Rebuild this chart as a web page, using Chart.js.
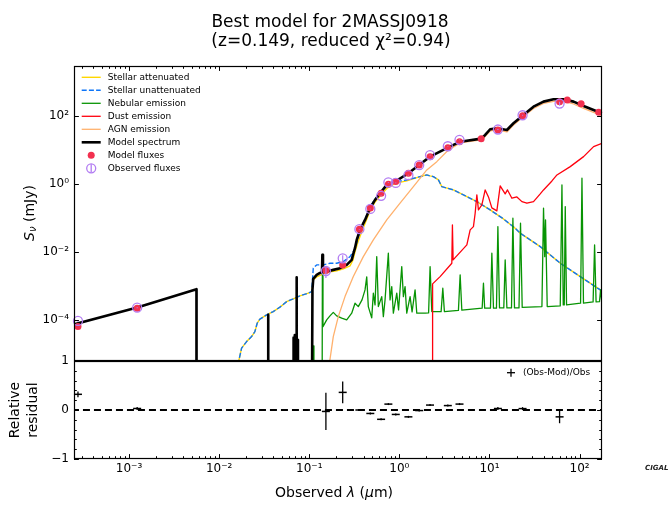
<!DOCTYPE html>
<html>
<head>
<meta charset="utf-8">
<title>Best model for 2MASSJ0918</title>
<script src="https://cdn.jsdelivr.net/npm/chart.js@4.4.1/dist/chart.umd.min.js"></script>
<style>
  html, body { margin: 0; padding: 0; background: #ffffff; }
  body { width: 668px; height: 507px; position: relative; overflow: hidden; }
  canvas { position: absolute; left: 0; }
  #sedTop { top: 0; }
  #sedRes { top: 300px; }
</style>
</head>
<body>
<canvas id="sedTop" width="668" height="380"></canvas>
<canvas id="sedRes" width="668" height="207"></canvas>
<script>
// ---------------- DATA (observed wavelength in micron, flux in mJy) ----------------
const TINY = 1e-9; // stands for "no flux" on the log axis

// axis limits
const xMin = 2.449e-4, xMax = 177.4;
const yMin = 6.6e-6, yMax = 2951;

// tick labels
const xTickVals = [1e-3, 1e-2, 1e-1, 1, 10, 100];
const xTickLabels = ['10\u207B\u00B3', '10\u207B\u00B2', '10\u207B\u00B9', '10\u2070', '10\u00B9', '10\u00B2'];
const yTickVals = [1e-4, 1e-2, 1, 100];
const yTickLabels = ['10\u207B\u2074', '10\u207B\u00B2', '10\u2070', '10\u00B2'];
const rTickVals = [-1, 0, 1];
const rTickLabels = ['\u22121', '0', '1'];

// Model spectrum
const specLam = [2.0e-4, 1.23e-3, 5.60e-3, 5.61e-3,
  0.0349, 0.0350, 0.0351,
  0.0666, 0.0668, 0.0672, 0.0687, 0.0689, 0.0693, 0.0722, 0.0724, 0.0726, 0.0747, 0.0749, 0.0752,
  0.1060, 0.1085, 0.1107, 0.1208, 0.1315, 0.1384, 0.1398, 0.1420, 0.1561, 0.1848, 0.2194, 0.2603,
  0.2959, 0.3059, 0.3220, 0.3363, 0.3660, 0.4159, 0.4725, 0.537, 0.610, 0.724, 0.896, 1.259, 1.655,
  2.193, 3.45, 4.73, 8.09, 8.96, 10.18, 12.08, 15.61, 18.48, 23.26, 30.8, 39.8, 51.4, 66.4, 85.8,
  110.8, 143, 177, 219];
const specFlux = [6.4e-5, 2.3e-4, 8.0e-4, TINY,
  TINY, 1.4e-4, TINY,
  TINY, 3.0e-5, TINY, TINY, 3.6e-5, TINY, TINY, 1.8e-3, TINY, TINY, 2.6e-5, TINY,
  TINY, 7.6e-4, 1.61e-3, 2.11e-3, 2.41e-3, 2.49e-3, 8.2e-3, 2.58e-3, 2.67e-3, 2.96e-3, 3.32e-3, 4.15e-3,
  5.82e-3, 8.17e-3, 0.0131, 0.0225, 0.0444, 0.0873, 0.193, 0.338, 0.533, 0.935, 1.17, 2.06, 3.62,
  6.35, 11.7, 17.5, 21.5, 27.6, 40.6, 43.5, 38.7, 61.0, 102, 188, 264, 310, 310, 264,
  197, 150, 120, 93];

// Stellar unattenuated
const unattLam = [0.01614, 0.01774, 0.02016, 0.02291, 0.02492, 0.02643, 0.02833, 0.03362, 0.03981, 0.04723,
  0.05609, 0.06641, 0.0788, 0.09747, 0.1063, 0.1108, 0.1208, 0.1431, 0.1698, 0.2015,
  0.2386, 0.2833, 0.322, 0.3502, 0.3851, 0.4266, 0.4725, 0.537, 0.6103, 0.7244,
  0.896, 1.208, 1.698, 2.016, 2.193, 2.387, 2.713, 2.959, 3.981, 5.141,
  7.244, 10.18, 14.31, 19.3, 21.93, 36.59, 61.04, 101.8, 169.8, 219.3];
const unattFlux = [4.75e-6, 1.47e-5, 2.30e-5, 3.23e-5, 4.53e-5, 7.99e-5, 1.05e-4, 1.40e-4, 1.75e-4, 2.36e-4,
  3.45e-4, 4.15e-4, 5.08e-4, 6.10e-4, 6.80e-4, 3.32e-3, 4.15e-3, 4.15e-3, 4.65e-3, 4.65e-3,
  5.19e-3, 7.27e-3, 0.01225, 0.02761, 0.0582, 0.107, 0.2106, 0.3621, 0.5255, 0.8733,
  1.145, 1.311, 1.64, 1.84, 1.719, 1.64, 1.311, 0.833, 0.666, 0.475,
  0.3015, 0.1719, 0.0934, 0.0498, 0.0355, 0.01432, 4.65e-3, 1.877e-3, 7.63e-4, 5.08e-4];

// Stellar attenuated
const attLam = [0.01614, 0.01774, 0.02016, 0.02291, 0.02492, 0.02643, 0.02833, 0.03362, 0.03981, 0.04723,
  0.05609, 0.06641, 0.0788, 0.09747, 0.1063,
  0.1108, 0.1208, 0.1431, 0.1698, 0.2015, 0.2386, 0.2833, 0.3059, 0.322, 0.3502,
  0.3851, 0.4266, 0.4725, 0.537, 0.6103, 0.7244, 0.896, 1.208,
  1.698, 2.016, 2.193, 2.387, 2.713, 2.959, 3.981, 5.141,
  7.244, 10.18, 14.31, 19.3, 21.93, 36.59, 61.04, 101.8, 169.8, 219.3];
const attFlux = [4.75e-6, 1.47e-5, 2.30e-5, 3.23e-5, 4.53e-5, 7.99e-5, 1.05e-4, 1.40e-4, 1.75e-4, 2.36e-4,
  3.45e-4, 4.15e-4, 5.08e-4, 6.10e-4, 6.80e-4,
  1.50e-3, 1.84e-3, 2.25e-3, 2.58e-3, 2.76e-3, 3.16e-3, 3.88e-3, 5.82e-3, 0.0100, 0.02106,
  0.04146, 0.0816, 0.1607, 0.2955, 0.4436, 0.737, 1.034, 1.225,
  1.64, 1.84, 1.719, 1.64, 1.311, 0.833, 0.666, 0.475,
  0.3015, 0.1719, 0.0934, 0.0498, 0.0355, 0.01432, 4.65e-3, 1.877e-3, 7.63e-4, 5.08e-4];

// Nebular emission
const nebLam = [0.1099, 0.1113, 0.1127, 0.1384, 0.1398, 0.1420, 0.1561, 0.1698, 0.1848, 0.2015,
  0.2291, 0.2603, 0.2959, 0.3220, 0.3502, 0.3851, 0.4159, 0.4343, 0.4522, 0.4935,
  0.5142, 0.5370, 0.5609, 0.5843, 0.6373, 0.6643, 0.6937, 0.7545, 0.7882, 0.8233,
  0.8577, 0.9357, 0.9797, 1.063, 1.108, 1.157, 1.208, 1.315, 1.384, 1.494,
  1.561, 1.930, 2.111, 2.193, 2.291, 2.906, 3.035, 3.162, 4.524, 4.727,
  4.935, 8.296, 8.577, 8.846, 10.26, 10.63, 11.08, 11.96, 12.40, 12.92,
  14.42, 14.94, 15.61, 17.56, 18.20, 18.96, 21.27, 22.11, 23.09, 38.21,
  39.81, 41.05, 41.90, 43.76, 61.04, 63.74, 65.89, 67.61, 69.36, 71.71,
  102.6, 106.3, 110.5, 141.3, 146.8, 152.5, 166.4, 171.1, 176.5, 219.3];
const nebFlux = [TINY, 1.72e-5, TINY, TINY, 2.955e-3, 6.35e-5, 1.0e-4, 1.311e-4, 1.662e-4, 1.311e-4,
  1.122e-4, 1.0e-4, 1.574e-4, 3.10e-4, 2.46e-4, 3.88e-4, 7.63e-4, 1.84e-3, 2.46e-4, 1.145e-4,
  6.10e-4, 2.76e-4, 7.27e-3, 2.46e-4, 4.84e-4, 1.251e-4, 3.88e-4, 9.16e-3, 3.88e-4, 9.54e-4,
  1.574e-4, 6.10e-4, 1.968e-4, 3.69e-3, 4.84e-4, 9.54e-4, 1.574e-4, 4.84e-4, 1.72e-4, 7.63e-4,
  1.574e-4, 1.574e-4, 1.606e-4, 3.69e-3, 1.754e-4, 1.754e-4, 8.56e-4, 1.754e-4, 1.903e-4, 2.106e-3,
  1.929e-4, 2.208e-4, 1.201e-3, 2.208e-4, 2.208e-4, 9.16e-3, 2.208e-4, 2.208e-4, 0.0555, 2.254e-4,
  2.254e-4, 5.82e-3, 2.254e-4, 2.254e-4, 0.098, 2.254e-4, 2.254e-4, 0.0698, 2.33e-4, 2.46e-4,
  0.1929, 7.27e-3, 0.0873, 2.46e-4, 2.58e-4, 0.935, 2.76e-4, 2.76e-4, 0.215, 2.76e-4,
  3.10e-4, 1.471, 3.10e-4, 3.38e-4, 0.01606, 3.38e-4, 3.45e-4, 7.63e-4, 3.50e-4, 3.62e-4];

// Dust emission
const dustLam = [2.326, 2.338, 2.833, 3.821, 3.88, 3.95, 5.611, 6.105, 6.641, 6.937,
  7.244, 7.547, 8.233, 8.96, 9.747, 10.63, 12.08, 13.15, 14.94, 15.85,
  17.74, 20.16, 22.91, 26.04, 30.83, 36.59, 39.81, 49.36, 56.09, 78.8,
  110.8, 143.1, 177.4, 219.3];
const dustFlux = [TINY, 1.145e-3, 1.877e-3, 4.65e-3, 0.0622, 5.82e-3, 0.01606, 0.0444, 0.0555, 0.1375,
  0.475, 0.1719, 0.2412, 0.666, 0.4147, 0.1968, 0.1607, 0.873, 0.508, 0.666,
  0.3797, 0.4147, 0.3015, 0.2706, 0.3015, 0.508, 0.666, 1.225, 1.84, 3.228,
  6.353, 12.51, 15.74, 18.4];

// AGN emission
const agnLam = [0.1634, 0.1848, 0.21, 0.2492, 0.3083, 0.3981, 0.5142, 0.7244, 1.018, 1.431,
  2.016, 2.603, 3.45, 4.727, 8.087, 8.96, 10.18, 12.08, 15.61, 18.48,
  23.26, 30.83, 39.81, 51.4, 66.4, 85.8, 110.8, 143.1, 177.4, 219.3];
const agnFlux = [3.4e-6, 3.23e-5, 1.25e-4, 4.84e-4, 1.88e-3, 7.27e-3, 0.0225, 0.0873, 0.271, 0.833,
  2.58, 4.53, 9.67, 16.1, 19.7, 25.0, 36.2, 38.7, 33.8, 54.4,
  90.3, 166, 233, 267, 267, 225, 166, 127, 103, 81.6];

// Photometric bands: model and observed fluxes
const bandLam   = [2.71e-4, 1.23e-3, 0.153, 0.235, 0.360, 0.476, 0.627, 0.755, 0.912, 1.26, 1.66,
  2.19, 3.45, 4.65, 8.09, 12.4, 23.3, 60.0, 73.0, 104, 163];
const modelFlux = [6.35e-5, 2.21e-4, 2.82e-3, 4.15e-3, 0.0466, 0.197, 0.532, 0.980, 1.17, 2.07, 3.62,
  6.35, 11.7, 17.5, 21.5, 38.7, 102, 264, 296, 230, 128.5];
const obsFlux   = [9.34e-5, 2.28e-4, 2.74e-3, 6.48e-3, 0.0466, 0.184, 0.447, 1.114, 1.073, 1.816, 3.58,
  7.06, 12.86, 19.9, null, 39.9, 105, 231.6, null, null, null];
const obsErr    = [5.6e-6, 6.8e-6, 1.04e-3, 1.43e-3, 9.3e-4, 3.7e-3, 8.9e-3, 0.022, 0.021, 0.036, 0.072,
  0.141, 0.257, 0.40, null, 1.2, 3.2, 30.1, null, null, null];

// ---------------- STYLE ----------------
const FONT = '"DejaVu Sans", "Liberation Sans", sans-serif';
const COL = { att: '#ffd700', unatt: '#0d75f8', neb: '#089404', dust: '#ff000d', agn: '#ffb16d',
  model: '#000000', modelPt: '#f2304f', obs: '#b27cf2' };

const pts = (lam, f) => lam.map((l, i) => ({ x: l, y: f[i] }));
const valid = (lam, f) => lam.map((l, i) => ({ x: l, y: f[i] })).filter(p => p.y !== null);

const residual = obsFlux.map((o, i) => (o === null ? null : (o - modelFlux[i]) / o));
const residualErr = obsFlux.map((o, i) => (o === null ? null : obsErr[i] / o));

function logTicks(min, max) {
  const out = [];
  for (let e = Math.floor(Math.log10(min)); e <= Math.ceil(Math.log10(max)); e++) {
    for (let k = 1; k < 10; k++) {
      const v = k * Math.pow(10, e);
      if (v >= min && v <= max) out.push({ v, major: k === 1 });
    }
  }
  return out;
}
function seg(ctx, x1, y1, x2, y2) { ctx.beginPath(); ctx.moveTo(x1, y1); ctx.lineTo(x2, y2); ctx.stroke(); }
function drawRuns(ctx, runs, cx, cy) {
  let w = 0;
  runs.forEach(r => { ctx.font = r.font; r.w = ctx.measureText(r.t).width; w += r.w; });
  let x = cx - w / 2;
  ctx.textAlign = 'left'; ctx.textBaseline = 'middle';
  runs.forEach(r => { ctx.font = r.font; ctx.fillText(r.t, x, cy + (r.dy || 0)); x += r.w; });
}

const lineDs = (label, lam, f, color, width, order, extra) => Object.assign({
  label, data: pts(lam, f), showLine: true, borderColor: color, backgroundColor: color,
  borderWidth: width, pointRadius: 0, order, clip: 0, borderJoinStyle: 'round', tension: 0
}, extra || {});

// ---------------- TOP PANEL ----------------
const topDecor = {
  id: 'topDecor',
  beforeDatasetDraw(chart, args) {
    const ds = chart.data.datasets[args.index];
    if (ds.label !== 'Observed fluxes') return;
    const { ctx, scales: { x, y } } = chart;
    ctx.save();
    ctx.strokeStyle = COL.obs; ctx.lineWidth = 1.2;
    bandLam.forEach((l, i) => {
      if (obsFlux[i] === null) return;
      const px = x.getPixelForValue(l);
      seg(ctx, px, y.getPixelForValue(obsFlux[i] - obsErr[i]), px, y.getPixelForValue(obsFlux[i] + obsErr[i]));
    });
    ctx.restore();
  },
  afterDraw(chart) {
    const { ctx, chartArea: a, scales: { x, y } } = chart;
    ctx.save();
    ctx.strokeStyle = '#000'; ctx.lineWidth = 1;
    logTicks(xMin, xMax).forEach(t => {
      const px = Math.round(x.getPixelForValue(t.v)) + 0.5;
      seg(ctx, px, a.top, px, a.top + (t.major ? 4.9 : 2.8));
    });
    yTickVals.forEach(v => {
      const py = Math.round(y.getPixelForValue(v)) + 0.5;
      seg(ctx, a.left, py, a.left + 4.9, py);
      seg(ctx, a.right, py, a.right - 4.9, py);
    });
    ctx.lineWidth = 1.2;
    ctx.strokeRect(a.left + 0.5, a.top + 0.5, a.right - a.left - 1, a.bottom - a.top);

    // legend
    const order = ['Stellar attenuated', 'Stellar unattenuated', 'Nebular emission', 'Dust emission',
      'AGN emission', 'Model spectrum', 'Model fluxes', 'Observed fluxes'];
    ctx.font = '9px ' + FONT; ctx.textAlign = 'left'; ctx.textBaseline = 'middle'; ctx.fillStyle = '#000';
    order.forEach((lab, i) => {
      const ds = chart.data.datasets.find(d => d.label === lab);
      const ly = 77.3 + 13 * i;
      if (ds.showLine) {
        ctx.save();
        ctx.strokeStyle = ds.borderColor; ctx.lineWidth = ds.borderWidth;
        ctx.setLineDash(ds.borderDash || []);
        seg(ctx, 81.7, ly, 100.7, ly);
        ctx.restore();
      } else if (lab === 'Model fluxes') {
        ctx.save(); ctx.fillStyle = ds.pointBackgroundColor;
        ctx.beginPath(); ctx.arc(91.2, ly, ds.pointRadius, 0, Math.PI * 2); ctx.fill(); ctx.restore();
      } else {
        ctx.save(); ctx.strokeStyle = ds.pointBorderColor; ctx.lineWidth = ds.pointBorderWidth;
        ctx.beginPath(); ctx.arc(91.2, ly, ds.pointRadius, 0, Math.PI * 2); ctx.stroke();
        seg(ctx, 91.2, ly - 4, 91.2, ly + 4); ctx.restore();
      }
      ctx.fillText(lab, 107.7, ly);
    });

    // title
    ctx.fillStyle = '#000'; ctx.textAlign = 'center'; ctx.textBaseline = 'middle';
    ctx.font = '17px ' + FONT;
    ctx.fillText('Best model for 2MASSJ0918', 330, 22.5);
    ctx.fillText('(z=0.149, reduced \u03C7\u00B2=0.94)', 331, 42);

    // y label
    ctx.save();
    ctx.translate(30, 213); ctx.rotate(-Math.PI / 2);
    drawRuns(ctx, [
      { t: 'S', font: 'italic 14px ' + FONT },
      { t: '\u03BD', font: 'italic 10px ' + FONT, dy: 3 },
      { t: ' (mJy)', font: '14px ' + FONT }
    ], 0, 0);
    ctx.restore();
    ctx.restore();
  }
};

new Chart(document.getElementById('sedTop'), {
  type: 'scatter',
  data: {
    datasets: [
      lineDs('Stellar attenuated', attLam, attFlux, COL.att, 1.4, 8),
      lineDs('Stellar unattenuated', unattLam, unattFlux, COL.unatt, 1.4, 7, { borderDash: [5, 2.2] }),
      lineDs('Nebular emission', nebLam, nebFlux, COL.neb, 1.3, 6),
      lineDs('Dust emission', dustLam, dustFlux, COL.dust, 1.3, 5),
      lineDs('AGN emission', agnLam, agnFlux, COL.agn, 1.3, 4),
      lineDs('Model spectrum', specLam, specFlux, COL.model, 2.6, 3),
      { label: 'Model fluxes', data: valid(bandLam, modelFlux), showLine: false, pointRadius: 3.5,
        pointBackgroundColor: COL.modelPt, pointBorderWidth: 0, pointBorderColor: COL.modelPt, order: 2, clip: false },
      { label: 'Observed fluxes', data: valid(bandLam, obsFlux), showLine: false, pointRadius: 4.5,
        pointBackgroundColor: 'rgba(0,0,0,0)', pointBorderColor: COL.obs, pointBorderWidth: 1.3, order: 1, clip: false }
    ]
  },
  options: {
    responsive: false, animation: false, devicePixelRatio: 1, events: [],
    layout: { padding: { top: 66, bottom: 20, left: 0, right: 66 } },
    plugins: { legend: { display: false }, tooltip: { enabled: false }, title: { display: false } },
    scales: {
      x: { type: 'logarithmic', min: xMin, max: xMax, bounds: 'data', display: false },
      y: { type: 'logarithmic', min: yMin, max: yMax, bounds: 'data', position: 'left',
        grid: { display: false, drawTicks: false }, border: { display: false },
        afterBuildTicks: s => { s.ticks = yTickVals.map(v => ({ value: v })); },
        afterFit: s => { s.width = 74; },
        ticks: { callback: (v, i) => yTickLabels[i], font: { family: FONT, size: 12 }, color: '#000',
          padding: 5, autoSkip: false } }
    }
  },
  plugins: [topDecor]
});

// ---------------- RESIDUAL PANEL ----------------
const resDecor = {
  id: 'resDecor',
  afterDatasetsDraw(chart) {
    const { ctx, scales: { x, y } } = chart;
    ctx.save(); ctx.strokeStyle = '#000'; ctx.lineWidth = 1.3;
    bandLam.forEach((l, i) => {
      if (residual[i] === null) return;
      const px = x.getPixelForValue(l);
      seg(ctx, px, y.getPixelForValue(residual[i] - residualErr[i]), px, y.getPixelForValue(residual[i] + residualErr[i]));
    });
    ctx.restore();
  },
  afterDraw(chart) {
    const { ctx, chartArea: a, scales: { x, y } } = chart;
    ctx.save();
    ctx.strokeStyle = '#000'; ctx.lineWidth = 1;
    logTicks(xMin, xMax).forEach(t => {
      const px = Math.round(x.getPixelForValue(t.v)) + 0.5;
      seg(ctx, px, a.bottom, px, a.bottom - (t.major ? 4.9 : 2.8));
    });
    for (let k = -5; k <= 5; k++) {
      const v = k / 5, major = (k % 5 === 0);
      const py = Math.round(y.getPixelForValue(v)) + 0.5, len = major ? 4.9 : 2.8;
      seg(ctx, a.left, py, a.left + len, py);
      seg(ctx, a.right, py, a.right - len, py);
    }
    ctx.lineWidth = 1.2;
    ctx.strokeRect(a.left + 0.5, a.top + 0.5, a.right - a.left - 1, a.bottom - a.top - 1);

    // legend
    ctx.lineWidth = 1.3;
    seg(ctx, 507, 72.7, 515, 72.7); seg(ctx, 511, 68.7, 511, 76.7);
    ctx.fillStyle = '#000'; ctx.font = '9px ' + FONT; ctx.textAlign = 'left'; ctx.textBaseline = 'middle';
    ctx.fillText('(Obs-Mod)/Obs', 523, 72.7);

    // x label
    drawRuns(ctx, [
      { t: 'Observed ', font: '14px ' + FONT },
      { t: '\u03BB', font: 'italic 14px ' + FONT },
      { t: ' (', font: '14px ' + FONT },
      { t: '\u03BC', font: 'italic 14px ' + FONT },
      { t: 'm)', font: '14px ' + FONT }
    ], 334, 193);

    // y label
    ctx.save();
    ctx.translate(0, 110); ctx.rotate(-Math.PI / 2);
    ctx.font = '14px ' + FONT; ctx.textAlign = 'center'; ctx.textBaseline = 'middle';
    ctx.fillText('Relative', 0, 15.5);
    ctx.fillText('residual', 0, 33);
    ctx.restore();

    // logo caption
    ctx.font = 'bold italic 7px ' + FONT; ctx.textAlign = 'left'; ctx.fillStyle = '#222';
    ctx.fillText('CIGALE', 645, 168);
    ctx.restore();
  }
};

new Chart(document.getElementById('sedRes'), {
  type: 'scatter',
  data: {
    datasets: [
      { label: 'zero', data: [{ x: 1e-4, y: 0 }, { x: 1e3, y: 0 }], showLine: true, borderColor: '#000',
        borderWidth: 2, borderDash: [7, 4], pointRadius: 0, order: 2, clip: 0 },
      { label: '(Obs-Mod)/Obs', data: valid(bandLam, residual), showLine: false, pointStyle: 'line',
        pointRadius: 4, pointBorderColor: '#000', pointBorderWidth: 1.5, order: 1, clip: false }
    ]
  },
  options: {
    responsive: false, animation: false, devicePixelRatio: 1, events: [],
    layout: { padding: { top: 61, bottom: 20, left: 0, right: 66 } },
    plugins: { legend: { display: false }, tooltip: { enabled: false }, title: { display: false } },
    scales: {
      x: { type: 'logarithmic', min: xMin, max: xMax, bounds: 'data', position: 'bottom',
        grid: { display: false, drawTicks: false }, border: { display: false },
        afterBuildTicks: s => { s.ticks = xTickVals.map(v => ({ value: v })); },
        afterFit: s => { s.height = 28; },
        ticks: { callback: (v, i) => xTickLabels[i], font: { family: FONT, size: 12 }, color: '#000',
          padding: 3, autoSkip: false, maxRotation: 0, minRotation: 0 } },
      y: { type: 'linear', min: -1, max: 1, position: 'left',
        grid: { display: false, drawTicks: false }, border: { display: false },
        afterBuildTicks: s => { s.ticks = rTickVals.map(v => ({ value: v })); },
        afterFit: s => { s.width = 74; },
        ticks: { callback: (v, i) => rTickLabels[i], font: { family: FONT, size: 12 }, color: '#000',
          padding: 5, autoSkip: false } }
    }
  },
  plugins: [resDecor]
});
</script>
</body>
</html>
